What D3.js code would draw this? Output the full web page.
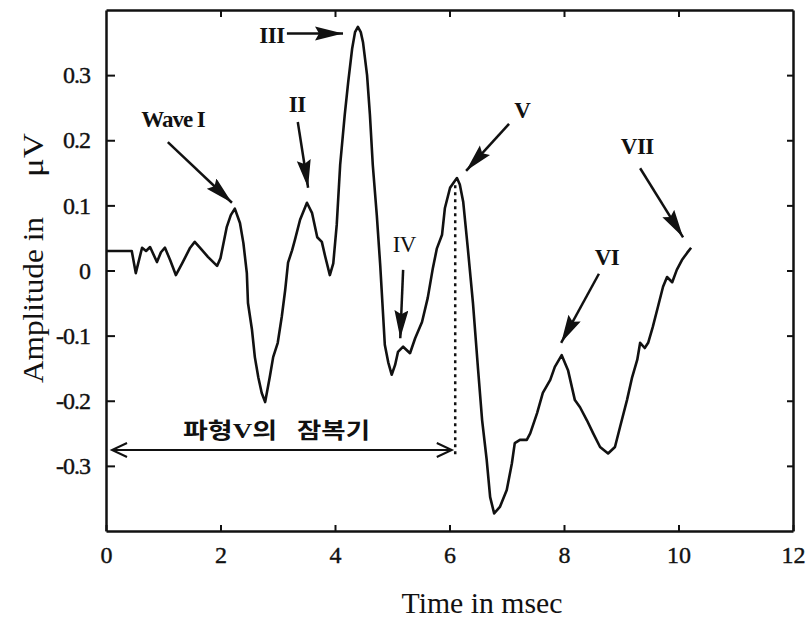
<!DOCTYPE html>
<html>
<head>
<meta charset="utf-8">
<script src="https://cdn.jsdelivr.net/npm/d3@7/dist/d3.min.js"></script>
<style>
  html, body { margin: 0; padding: 0; background: #fff; }
  svg { display: block; }
  text { font-family: "Liberation Serif", "Times New Roman", serif; fill: #111; }
</style>
</head>
<body>
<svg id="chart" width="809" height="626"></svg>
<script>
// ---- data ----
const time = [0, 0.45, 0.52, 0.63, 0.70, 0.77, 0.89, 0.96, 1.03, 1.12, 1.22, 1.33, 1.47, 1.55, 1.64, 1.78, 1.94, 2.0, 2.11, 2.18, 2.25, 2.34, 2.40, 2.46, 2.48, 2.55, 2.60, 2.66, 2.72, 2.78, 2.86, 2.92, 3.0, 3.07, 3.13, 3.18, 3.25, 3.30, 3.39, 3.51, 3.60, 3.69, 3.77, 3.83, 3.91, 3.97, 4.03, 4.09, 4.17, 4.23, 4.30, 4.35, 4.40, 4.45, 4.49, 4.56, 4.61, 4.66, 4.73, 4.79, 4.84, 4.87, 4.93, 4.99, 5.05, 5.10, 5.19, 5.31, 5.40, 5.52, 5.62, 5.71, 5.78, 5.87, 5.92, 6.01, 6.08, 6.13, 6.18, 6.24, 6.32, 6.41, 6.50, 6.57, 6.65, 6.71, 6.78, 6.88, 7.00, 7.09, 7.14, 7.23, 7.35, 7.41, 7.53, 7.63, 7.76, 7.84, 7.96, 8.07, 8.19, 8.28, 8.40, 8.51, 8.63, 8.77, 8.89, 8.98, 9.10, 9.19, 9.28, 9.33, 9.41, 9.47, 9.55, 9.64, 9.73, 9.80, 9.89, 9.97, 10.06, 10.15, 10.22];
const amplitude = [0.030, 0.030, -0.004, 0.035, 0.030, 0.036, 0.013, 0.028, 0.035, 0.016, -0.007, 0.011, 0.035, 0.044, 0.035, 0.021, 0.007, 0.019, 0.067, 0.085, 0.095, 0.073, 0.042, -0.004, -0.050, -0.091, -0.133, -0.164, -0.188, -0.202, -0.164, -0.133, -0.111, -0.071, -0.030, 0.012, 0.031, 0.047, 0.078, 0.104, 0.088, 0.051, 0.044, 0.021, -0.007, 0.011, 0.070, 0.162, 0.239, 0.289, 0.341, 0.366, 0.374, 0.366, 0.350, 0.300, 0.239, 0.162, 0.085, 0.008, -0.068, -0.114, -0.141, -0.160, -0.145, -0.125, -0.117, -0.127, -0.104, -0.079, -0.042, 0.004, 0.034, 0.055, 0.096, 0.127, 0.136, 0.142, 0.132, 0.105, 0.034, -0.050, -0.153, -0.230, -0.291, -0.348, -0.373, -0.363, -0.337, -0.296, -0.265, -0.260, -0.260, -0.250, -0.219, -0.188, -0.168, -0.148, -0.130, -0.153, -0.199, -0.210, -0.230, -0.250, -0.271, -0.281, -0.271, -0.240, -0.199, -0.164, -0.137, -0.111, -0.119, -0.111, -0.087, -0.056, -0.025, -0.010, -0.018, 0.001, 0.016, 0.027, 0.035];

const xTicks = [0, 2, 4, 6, 8, 10, 12];
const xTickLabels = ["0", "2", "4", "6", "8", "10", "12"];
const yTicks = [-0.3, -0.2, -0.1, 0, 0.1, 0.2, 0.3];
const yTickLabels = ["-0.3", "-0.2", "-0.1", "0", "0.1", "0.2", "0.3"];

// wave labels, text anchor (ms, µV), arrow start and arrow tip
const waveLabels = ["Wave I", "II", "III", "IV", "V", "VI", "VII"];
const labelPos   = [[1.17, 0.220], [3.34, 0.243], [2.90, 0.349], [5.21, 0.028], [7.27, 0.234], [8.75, 0.008], [9.28, 0.179]];
const arrowFrom  = [[1.08, 0.197], [3.35, 0.228], [3.16, 0.364], [5.19, 0.001], [7.04, 0.225], [8.61, -0.005], [9.33, 0.157]];
const arrowTo    = [[2.20, 0.104], [3.53, 0.127], [4.14, 0.364], [5.14, -0.104], [6.29, 0.153], [7.95, -0.111], [10.08, 0.051]];
const labelBold  = [true, true, true, false, true, true, true];

const latencyLabel = ["파형V의", "잠복기"];
const latencyTime = 6.10;

// ---- layout ----
const svg = d3.select("#chart");
const x = d3.scaleLinear().domain([0, 12]).range([106, 793]);
const y = d3.scaleLinear().domain([-0.4, 0.4]).range([531, 10]);

const defs = svg.append("defs");
defs.append("marker").attr("id", "head").attr("markerUnits", "userSpaceOnUse")
  .attr("markerWidth", 30).attr("markerHeight", 16).attr("refX", 28).attr("refY", 7)
  .attr("orient", "auto")
  .append("path").attr("d", "M0,0 L28,7 L0,14 L4,7 Z").attr("fill", "#111");
defs.append("marker").attr("id", "open").attr("markerUnits", "userSpaceOnUse")
  .attr("markerWidth", 20).attr("markerHeight", 18).attr("refX", 16).attr("refY", 8)
  .attr("orient", "auto-start-reverse")
  .append("path").attr("d", "M1,1 L16,8 L1,15").attr("fill", "none").attr("stroke", "#111").attr("stroke-width", 2);

// axes
const axisStyle = g => {
  g.selectAll(".domain").attr("stroke", "#111").attr("stroke-width", 2.5);
  g.selectAll(".tick line").attr("stroke", "#111").attr("stroke-width", 2);
  g.selectAll(".tick text")
    .style("font-family", "'Liberation Serif', serif").style("font-size", "24px")
    .attr("fill", "#111").attr("stroke", "#111").attr("stroke-width", 0.4);
};

svg.append("g").attr("transform", `translate(0,${y(-0.4)})`)
  .call(d3.axisBottom(x).tickValues(xTicks).tickFormat((d, i) => xTickLabels[i]).tickSizeInner(-6).tickSizeOuter(0).tickPadding(15))
  .call(axisStyle);
svg.append("g").attr("transform", `translate(0,${y(0.4)})`)
  .call(d3.axisTop(x).tickValues(xTicks.slice(1, -1)).tickFormat("").tickSizeInner(-7).tickSizeOuter(0))
  .call(axisStyle);
svg.append("g").attr("transform", `translate(${x(0)},0)`)
  .call(d3.axisLeft(y).tickValues(yTicks).tickFormat((d, i) => yTickLabels[i]).tickSizeInner(-9).tickSizeOuter(0).tickPadding(16))
  .call(axisStyle)
  .selectAll(".tick text").attr("letter-spacing", -1);
svg.append("g").attr("transform", `translate(${x(12)},0)`)
  .call(d3.axisRight(y).tickValues(yTicks).tickFormat("").tickSizeInner(-6).tickSizeOuter(0))
  .call(axisStyle);

// axis titles
svg.append("text").attr("x", 482).attr("y", 613).attr("text-anchor", "middle")
  .attr("font-size", 29).attr("textLength", 161).attr("lengthAdjust", "spacingAndGlyphs")
  .text("Time in msec");
const yl = svg.append("text").attr("transform", "translate(43,383) rotate(-90)")
  .attr("font-size", 29);
yl.append("tspan").attr("x", 0).attr("textLength", 166).attr("lengthAdjust", "spacingAndGlyphs").text("Amplitude in");
yl.append("tspan").attr("x", 206).attr("textLength", 44).attr("lengthAdjust", "spacingAndGlyphs").text("μV");

// waveform
const pts = time.map((t, i) => [t, amplitude[i]]);
svg.append("path").datum(pts)
  .attr("fill", "none").attr("stroke", "#111").attr("stroke-width", 2.6).attr("stroke-linejoin", "round")
  .attr("d", d3.line().x(d => x(d[0])).y(d => y(d[1])));

// latency dotted line
svg.append("line")
  .attr("x1", x(latencyTime)).attr("x2", x(latencyTime))
  .attr("y1", y(0.131)).attr("y2", y(-0.288))
  .attr("stroke", "#111").attr("stroke-width", 2.5).attr("stroke-dasharray", "3,4");

// latency double arrow
svg.append("line")
  .attr("x1", x(0.105)).attr("x2", x(6.04))
  .attr("y1", y(-0.2756)).attr("y2", y(-0.2756))
  .attr("stroke", "#111").attr("stroke-width", 2)
  .attr("marker-start", "url(#open)").attr("marker-end", "url(#open)");

const latG = svg.append("g").attr("font-weight", "bold").attr("font-size", 22);
latG.append("text").attr("x", x(1.345)).attr("y", y(-0.257))
  .style("font-family", "'Liberation Serif', 'Noto Sans CJK KR', serif")
  .attr("textLength", 94).attr("lengthAdjust", "spacingAndGlyphs").text(latencyLabel[0]);
latG.append("text").attr("x", x(3.336)).attr("y", y(-0.257))
  .style("font-family", "'Liberation Serif', 'Noto Sans CJK KR', serif")
  .attr("textLength", 73).attr("lengthAdjust", "spacingAndGlyphs").text(latencyLabel[1]);

// wave labels and arrows
waveLabels.forEach((lab, i) => {
  svg.append("line")
    .attr("x1", x(arrowFrom[i][0])).attr("y1", y(arrowFrom[i][1]))
    .attr("x2", x(arrowTo[i][0])).attr("y2", y(arrowTo[i][1]))
    .attr("stroke", "#111").attr("stroke-width", 2.5)
    .attr("marker-end", "url(#head)");
  svg.append("text")
    .attr("x", x(labelPos[i][0])).attr("y", y(labelPos[i][1]))
    .attr("text-anchor", "middle")
    .attr("font-size", 23)
    .attr("font-weight", labelBold[i] ? "bold" : "normal")
    .attr("letter-spacing", lab === "Wave I" ? -1 : -0.5)
    .text(lab);
});
</script>
</body>
</html>
